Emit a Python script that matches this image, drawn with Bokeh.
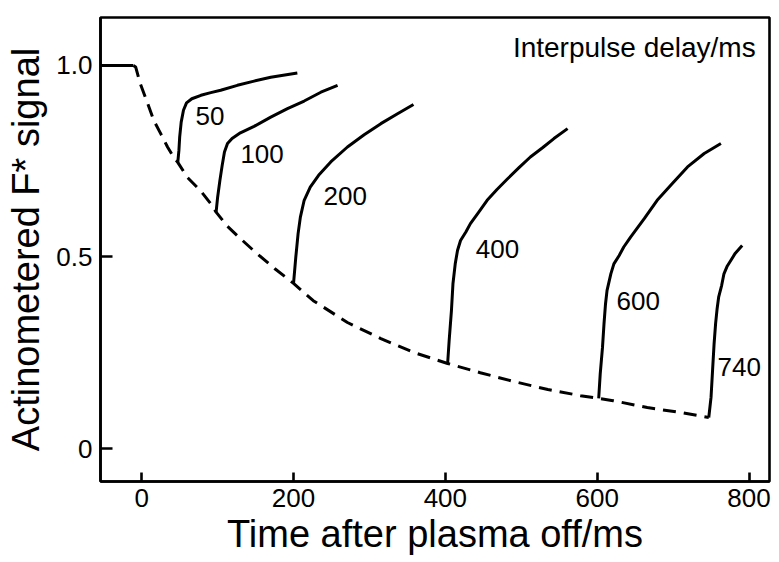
from bokeh.plotting import figure
from bokeh.models import Range1d, FixedTicker, ColumnDataSource
from bokeh.core.properties import value
from bokeh.embed import file_html
from bokeh.resources import INLINE

# ---------------- data ----------------
# plasma-on plateau before switch-off
flat_t = [-55, -11]
flat_y = [1.0, 1.0]

# decay of actinometered F* after plasma off (dashed)
decay_t = [-11, -8, -2, 8, 16, 25, 34, 42, 47.5, 60, 77, 91, 98, 113, 130,
           150, 175, 200, 226, 271, 315, 358, 403, 446, 490, 535, 578, 602,
           621, 666, 710, 747]
decay_y = [1.0, 0.996, 0.953, 0.900, 0.856, 0.822, 0.787, 0.761, 0.747,
           0.708, 0.674, 0.639, 0.617, 0.580, 0.548, 0.512, 0.470, 0.431,
           0.386, 0.329, 0.287, 0.251, 0.222, 0.198, 0.175, 0.154, 0.138,
           0.131, 0.125, 0.107, 0.094, 0.081]

# recovery after the second pulse, for each interpulse delay
r50_t = [47.5, 49, 50, 52, 55, 59, 66, 78, 91, 104, 126, 148, 170, 205]
r50_y = [0.747, 0.778, 0.813, 0.852, 0.883, 0.902, 0.913, 0.922, 0.929,
         0.935, 0.948, 0.959, 0.969, 0.980]

r100_t = [98, 100, 103, 106, 109, 113, 119, 130, 148, 170, 192, 214, 236, 258]
r100_y = [0.617, 0.656, 0.700, 0.739, 0.774, 0.796, 0.809, 0.824, 0.841,
          0.865, 0.887, 0.907, 0.930, 0.948]

r200_t = [200, 203, 206, 209, 214, 222, 233, 249, 271, 293, 315, 337, 358]
r200_y = [0.431, 0.500, 0.561, 0.604, 0.648, 0.682, 0.713, 0.748, 0.787,
          0.819, 0.848, 0.874, 0.898]

r400_t = [403, 405, 408, 410, 413, 416, 420, 427, 433, 444, 455, 468, 482,
          497, 512, 528, 543, 561]
r400_y = [0.222, 0.282, 0.360, 0.430, 0.482, 0.517, 0.543, 0.565, 0.587,
          0.617, 0.648, 0.676, 0.704, 0.733, 0.761, 0.785, 0.809, 0.835]

r600_t = [602, 604, 607, 609, 611, 613, 618, 622, 629, 635, 644, 662, 679,
          699, 719, 741, 763]
r600_y = [0.131, 0.195, 0.264, 0.326, 0.378, 0.413, 0.456, 0.482, 0.504,
          0.526, 0.552, 0.600, 0.648, 0.692, 0.735, 0.770, 0.796]

r740_t = [747, 750, 752, 754, 756, 758, 760, 764, 767, 771, 776, 782, 791]
r740_y = [0.081, 0.134, 0.204, 0.273, 0.326, 0.365, 0.395, 0.426, 0.456,
          0.475, 0.491, 0.510, 0.530]

delay_labels = ["50", "100", "200", "400", "600", "740"]

x_ticks = [0, 200, 400, 600, 800]
y_ticks = [0, 0.5, 1.0]
y_tick_labels = ["0", "0.5", "1.0"]

# ---------------- figure ----------------
FONT = "Liberation Sans"

p = figure(width=779, height=562, output_backend="svg", toolbar_location=None,
           x_range=Range1d(-54.3, 827), y_range=Range1d(-0.086, 1.125),
           min_border_left=100, min_border_right=10,
           min_border_top=17, min_border_bottom=81)

p.background_fill_color = "white"
p.border_fill_color = "white"
p.outline_line_color = "black"
p.outline_line_width = 2.6
p.xgrid.visible = False
p.ygrid.visible = False

for ax in (p.xaxis[0], p.yaxis[0]):
    ax.axis_line_width = 2.6
    ax.axis_line_color = "black"
    ax.major_tick_out = 0
    ax.minor_tick_in = 0
    ax.minor_tick_out = 0
    ax.major_tick_line_width = 2.6
    ax.major_tick_line_color = "black"
    ax.major_label_text_font = FONT
    ax.major_label_text_font_size = "26px"
    ax.major_label_text_color = "black"
    ax.axis_label_text_font = FONT
    ax.axis_label_text_font_size = "38px"
    ax.axis_label_text_font_style = "normal"
    ax.axis_label_text_color = "black"

p.xaxis.ticker = FixedTicker(ticks=x_ticks)
p.xaxis.major_tick_in = 9
p.xaxis.major_label_standoff = 7
p.xaxis.axis_label = "Time after plasma off/ms"
p.xaxis.axis_label_standoff = 3

p.yaxis.ticker = FixedTicker(ticks=y_ticks)
p.yaxis.major_label_overrides = {t: s for t, s in zip(y_ticks, y_tick_labels)}
p.yaxis.major_tick_in = 12
p.yaxis.major_label_standoff = 8
p.yaxis.major_label_orientation = "horizontal"
p.yaxis.axis_label = "Actinometered F* signal"
p.yaxis.axis_label_standoff = 6

# plateau and decay
p.line(flat_t, flat_y, line_color="black", line_width=3)
p.line(decay_t, decay_y, line_color="black", line_width=3, line_dash="13 8")

# recovery curves
curves = [(r50_t, r50_y), (r100_t, r100_y), (r200_t, r200_y),
          (r400_t, r400_y), (r600_t, r600_y), (r740_t, r740_y)]
for t, y in curves:
    p.line(t, y, line_color="black", line_width=3, line_join="round")

# delay labels (anchor positions of the annotations)
label_x = [71, 130, 239.5, 440, 625.6, 758.5]
label_y = [0.867, 0.768, 0.658, 0.522, 0.384, 0.214]
src = ColumnDataSource(dict(x=label_x, y=label_y, text=delay_labels))
p.text(x="x", y="y", text="text", source=src, text_font=value(FONT),
       text_font_size="26px", text_align="left", text_baseline="middle",
       text_color="black")

p.text(x=[808.8], y=[1.047], text=["Interpulse delay/ms"], text_font=value(FONT),
       text_font_size="28px", text_align="right", text_baseline="alphabetic",
       text_color="black")

open("out.html", "w").write(file_html(p, INLINE))
